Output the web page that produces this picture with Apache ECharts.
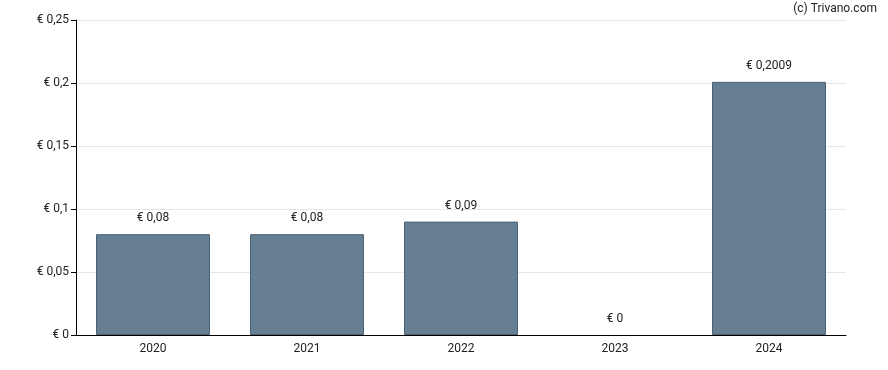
<!DOCTYPE html>
<html><head><meta charset="utf-8">
<script src="https://cdn.jsdelivr.net/npm/echarts@6/dist/echarts.min.js"></script>
<style>html,body{margin:0;padding:0;background:#fff}#c{width:888px;height:370px}</style>
</head><body><div id="c"></div>
<script>
const categories = ['2020','2021','2022','2023','2024'];
const values = [0.08, 0.08, 0.09, 0, 0.2009];
const valueLabels = ['€ 0,08','€ 0,08','€ 0,09','€ 0','€ 0,2009'];
const yTicks = [0, 0.05, 0.1, 0.15, 0.2, 0.25];
const yTickLabels = ['€ 0','€ 0,05','€ 0,1','€ 0,15','€ 0,2','€ 0,25'];

const chart = echarts.init(document.getElementById('c'), null, {renderer:'canvas'});
const font = 'Roboto, Arial, sans-serif';
chart.setOption({
  animation:false,
  textStyle:{fontFamily:font},
  graphic:[{type:'text', right:11, top:3, style:{text:'(c) Trivano.com', fill:'#222', font:'12px '+font}}],
  grid:{left:76, right:42, top:20, bottom:35},
  xAxis:{type:'category', data:categories,
    axisLine:{lineStyle:{color:'#000', width:1}},
    axisTick:{alignWithLabel:true, length:5, lineStyle:{color:'#000'}},
    axisLabel:{color:'#222', fontSize:12, margin:8, fontFamily:font}},
  yAxis:{type:'value', min:0, max:0.25, interval:0.05,
    axisLine:{show:true, lineStyle:{color:'#000'}},
    axisTick:{show:true, length:5, lineStyle:{color:'#000'}},
    splitLine:{lineStyle:{color:'#e6e6e6'}},
    axisLabel:{color:'#222', fontSize:12, margin:7, fontFamily:font,
      formatter:v=>{const i=yTicks.findIndex(t=>Math.abs(t-v)<1e-9);return i>=0?yTickLabels[i]:'';}}},
  series:[{type:'bar', barWidth:'74%',
    data: values.map(v => ({value:v, itemStyle: v === 0 ? {borderWidth:0} : {}})),
    itemStyle:{color:'#667f92', borderColor:'#4a6275', borderWidth:1},
    label:{show:true, position:'top', distance:10, color:'#222', fontSize:12, fontFamily:font,
      formatter:p=>valueLabels[p.dataIndex]}}]
});
</script></body></html>
